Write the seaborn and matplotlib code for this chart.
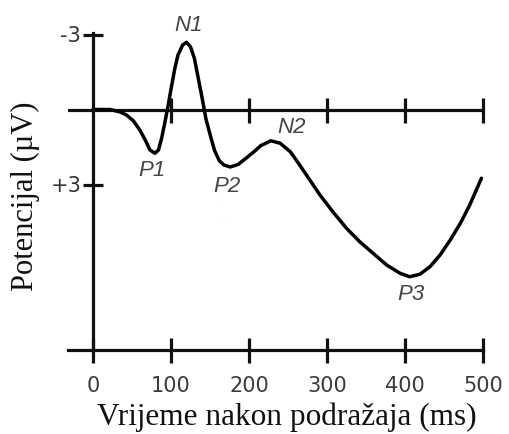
import numpy as np
import pandas as pd
import matplotlib
matplotlib.use("Agg")
import matplotlib.pyplot as plt
import seaborn as sns

# ---- data ----
time_ms = [0, 22, 35, 43, 52, 60, 67, 73, 79.5, 84, 88, 92, 96.5, 101, 105, 109,
           115, 120, 125, 130, 135, 140, 145, 151, 156, 162, 168, 176, 186, 197,
           206, 215, 228, 240, 253, 265, 278, 291, 308, 325, 342, 359, 376.5,
           393.6, 406, 419, 432, 445, 458, 471, 483, 498]
potential_uv = [0.0, 0.0, 0.1, 0.22, 0.46, 0.82, 1.22, 1.62, 1.75, 1.62, 1.15,
                0.55, -0.18, -0.98, -1.65, -2.18, -2.58, -2.69, -2.51, -2.05,
                -1.25, -0.45, 0.4, 1.1, 1.65, 2.05, 2.22, 2.3, 2.2, 1.93,
                1.7, 1.45, 1.25, 1.35, 1.69, 2.22, 2.82, 3.42, 4.11, 4.75, 5.29,
                5.75, 6.22, 6.55, 6.69, 6.59, 6.29, 5.82, 5.22, 4.55, 3.82, 2.75]

peak_names = ["P1", "N1", "P2", "N2", "P3"]
peak_time = [76, 122, 172, 255, 407]
peak_pos = [2.45, -3.35, 3.1, 0.72, 7.4]

x_ticks = [0, 100, 200, 300, 400, 500]
y_ticks = [-3, 3]
y_tick_labels = ["-3", "+3"]
x_label = "Vrijeme nakon podražaja (ms)"
y_label = "Potencijal (µV)"

df = pd.DataFrame({"t": time_ms, "v": potential_uv})

sns.set_style("white")
plt.rcParams["font.family"] = ["DejaVu Sans"]

fig = plt.figure(figsize=(5.10, 4.34), dpi=100)
ax = fig.add_axes([68 / 510, (434 - 350) / 434, 415 / 510, 317 / 434])

AX = "#111111"
LW = 2.3

sns.lineplot(data=df, x="t", y="v", color="black", linewidth=2.5, ax=ax,
             estimator=None, sort=False, solid_joinstyle="round",
             solid_capstyle="round")

ax.set_xlim(-32, 500)
ax.set_ylim(9.62, -3.06)

for s in ["top", "right"]:
    ax.spines[s].set_visible(False)
ax.spines["left"].set_position(("data", 0))
ax.spines["left"].set_color(AX)
ax.spines["left"].set_linewidth(LW)
ax.spines["bottom"].set_color(AX)
ax.spines["bottom"].set_linewidth(LW)

# zero line with its own cross ticks
ax.axhline(0, color=AX, linewidth=LW, zorder=1)
ax.plot(x_ticks[1:], [0] * (len(x_ticks) - 1), linestyle="none", marker="|",
        markersize=18, markeredgewidth=LW, color=AX, clip_on=False)

ax.set_xticks(x_ticks)
ax.set_xticklabels([str(v) for v in x_ticks])
ax.set_yticks(y_ticks)
ax.set_yticklabels(y_tick_labels)
ax.tick_params(axis="x", bottom=True, direction="inout", length=18, width=LW,
               color=AX, pad=10, labelsize=15, labelcolor="#3a3a3a")
ax.tick_params(axis="y", left=True, direction="inout", length=15, width=LW,
               color=AX, pad=1, labelsize=15, labelcolor="#333333")
ax.grid(False)

ax.set_xlabel(x_label, family="Liberation Serif", fontsize=22.5, color="#111111")
ax.set_ylabel(y_label, family="Liberation Serif", fontsize=22, color="#111111")
ax.xaxis.set_label_coords((287 - 68) / 415, (350 - 402) / 317)
ax.yaxis.set_label_coords((40 - 68) / 415, (350 - 196) / 317)
ax.xaxis.label.set_va("top")

for name, t, v in zip(peak_names, peak_time, peak_pos):
    ax.text(t, v, name, ha="center", va="center", style="italic",
            family="Liberation Sans", fontsize=16, color="#444444", clip_on=False)

fig.savefig("out.png", dpi=100)
